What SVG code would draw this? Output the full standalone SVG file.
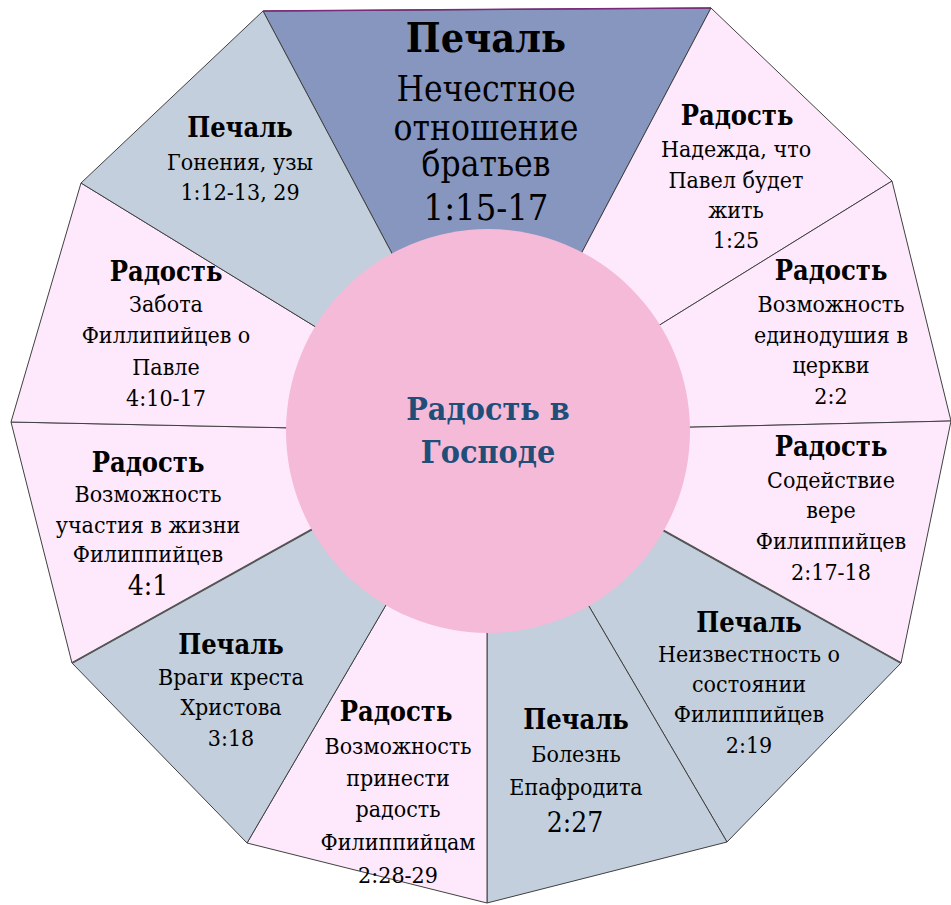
<svg xmlns="http://www.w3.org/2000/svg" width="951" height="905" viewBox="0 0 951 905">
<style>
.sec{stroke:#404040;stroke-width:1}
.joy{fill:#FDE9FB}
.sad{fill:#C3CFDC}
.top{fill:#8696BF}
text{fill:#000;text-anchor:middle;font-stretch:condensed}
.t{font-weight:bold;font-size:27px}
.b{font-size:23px}
.big{font-size:28px}
.h{font-size:35px}
.c{font-weight:bold;font-size:32px;fill:#1F4E79}
</style>
<rect width="951" height="905" fill="#fff"/>
<g font-family="DejaVu Serif Condensed, DejaVu Serif, serif">
<g id="s-top">
<polygon class="sec top" points="487,432 263,11 711,8"/>
<line x1="263" y1="11" x2="711" y2="8" stroke="#7A2A7A" stroke-width="1.5"/>
<text x="486" y="52" style="font-weight:bold;font-size:41px">Печаль</text>
<text class="h" x="486" y="101">Нечестное</text>
<text class="h" x="486" y="140">отношение</text>
<text class="h" x="486" y="176">братьев</text>
<text x="486" y="220" style="font-size:36px">1:15-17</text>
</g>
<g id="s-hope">
<polygon class="sec joy" points="487,432 711,8 892,181"/>
<text class="t" x="737" y="125">Радость</text>
<text class="b" x="736" y="157">Надежда, что</text>
<text class="b" x="736" y="188">Павел будет</text>
<text class="b" x="736" y="218">жить</text>
<text class="b" x="736" y="248">1:25</text>
</g>
<g id="s-unity">
<polygon class="sec joy" points="487,432 892,181 951,421"/>
<text class="t" x="831" y="280">Радость</text>
<text class="b" x="831" y="312">Возможность</text>
<text class="b" x="831" y="343">единодушия в</text>
<text class="b" x="831" y="373">церкви</text>
<text class="b" x="831" y="404">2:2</text>
</g>
<g id="s-faith">
<polygon class="sec joy" points="487,432 951,421 901,663"/>
<text class="t" x="831" y="456">Радость</text>
<text class="b" x="831" y="488">Содействие</text>
<text class="b" x="831" y="518">вере</text>
<text class="b" x="831" y="549">Филиппийцев</text>
<text class="b" x="831" y="580">2:17-18</text>
</g>
<g id="s-unknown">
<polygon class="sec sad" points="487,432 901,663 727,842"/>
<text class="t" x="749" y="632">Печаль</text>
<text class="b" x="749" y="662">Неизвестность о</text>
<text class="b" x="749" y="692">состоянии</text>
<text class="b" x="749" y="722">Филиппийцев</text>
<text class="b" x="749" y="753">2:19</text>
</g>
<g id="s-illness">
<polygon class="sec sad" points="487,432 727,842 487,903"/>
<text class="t" x="576" y="729">Печаль</text>
<text class="b" x="576" y="762">Болезнь</text>
<text class="b" x="576" y="795">Епафродита</text>
<text class="big" x="575" y="832">2:27</text>
</g>
<g id="s-bring">
<polygon class="sec joy" points="487,432 487,903 247,843"/>
<text class="t" x="396" y="721">Радость</text>
<text class="b" x="398" y="754">Возможность</text>
<text class="b" x="398" y="786">принести</text>
<text class="b" x="398" y="817">радость</text>
<text class="b" x="398" y="850">Филиппийцам</text>
<text class="b" x="398" y="883">2:28-29</text>
</g>
<g id="s-enemies">
<polygon class="sec sad" points="487,432 247,843 72,663"/>
<text class="t" x="231" y="654">Печаль</text>
<text class="b" x="231" y="685">Враги креста</text>
<text class="b" x="231" y="715">Христова</text>
<text class="b" x="231" y="746">3:18</text>
</g>
<g id="s-part">
<polygon class="sec joy" points="487,432 72,663 11,422"/>
<text class="t" x="148" y="472">Радость</text>
<text class="b" x="148" y="502">Возможность</text>
<text class="b" x="148" y="533">участия в жизни</text>
<text class="b" x="148" y="562">Филиппийцев</text>
<text class="big" x="148" y="595">4:1</text>
</g>
<g id="s-care">
<polygon class="sec joy" points="487,432 11,422 81,183"/>
<text class="t" x="166" y="281">Радость</text>
<text class="b" x="166" y="312">Забота</text>
<text class="b" x="166" y="343">Филлипийцев о</text>
<text class="b" x="166" y="375">Павле</text>
<text class="b" x="166" y="406">4:10-17</text>
</g>
<g id="s-persec">
<polygon class="sec sad" points="487,432 81,183 263,11"/>
<text class="t" x="240" y="137">Печаль</text>
<text class="b" x="240" y="170">Гонения, узы</text>
<text class="b" x="240" y="200">1:12-13, 29</text>
</g>
<g id="connectors">
<line x1="487" y1="432" x2="901" y2="663" stroke="#555" stroke-width="2"/>
<line x1="487" y1="432" x2="72" y2="663" stroke="#555" stroke-width="2"/>
</g>
<g id="center">
<circle cx="488" cy="431" r="202" fill="#F4BAD8"/>
<text class="c" x="488" y="420">Радость в</text>
<text class="c" x="488" y="463">Господе</text>
</g>
</g>
</svg>
